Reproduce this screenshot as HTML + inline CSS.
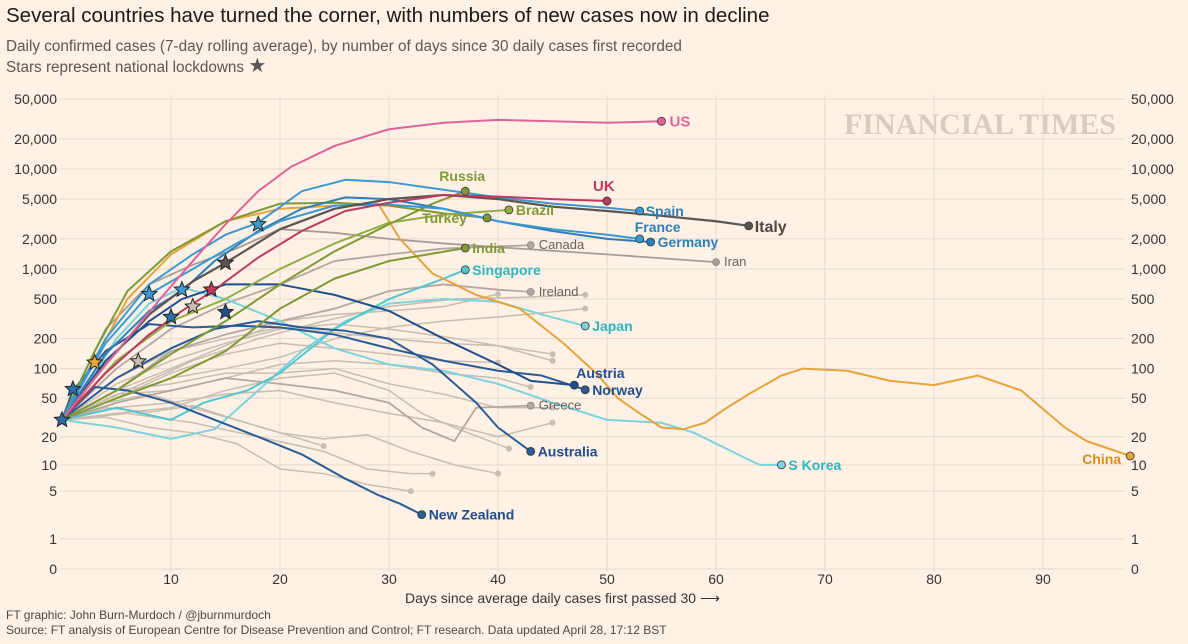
<!DOCTYPE html>
<html><head><meta charset="utf-8">
<style>
html,body{margin:0;padding:0;background:#fff1e5;}
body{width:1188px;height:639px;overflow:hidden;font-family:"Liberation Sans",sans-serif;}
svg text{font-family:"Liberation Sans",sans-serif;}
</style></head>
<body>
<svg id="chart" width="1188" height="639" viewBox="0 0 1188 639" xmlns="http://www.w3.org/2000/svg">
<rect width="1188" height="639" fill="#fff1e5"/>
<text x="6" y="22" font-size="20.5" fill="#1a1a1a">Several countries have turned the corner, with numbers of new cases now in decline</text>
<text x="6" y="51" font-size="15.3" fill="#5e5650">Daily confirmed cases (7-day rolling average), by number of days since 30 daily cases first recorded</text>
<text x="6" y="72" font-size="15.3" fill="#5e5650">Stars represent national lockdowns <tspan font-size="20" fill="#555">★</tspan></text>
<text x="980" y="134" font-size="30" fill="#dccbbd" text-anchor="middle" font-weight="bold" font-family="Liberation Serif, serif" style="font-family:'Liberation Serif',serif">FINANCIAL TIMES</text>
<g id="grid"></g>
<g id="grey"></g>
<g id="main"></g>
<g id="stars"></g>
<g id="labels"></g>
<text x="405" y="603" font-size="14" fill="#333">Days since average daily cases first passed 30 ⟶</text>
<text x="6" y="619" font-size="12" fill="#4d4844">FT graphic: John Burn-Murdoch / @jburnmurdoch</text>
<text x="6" y="634" font-size="12" fill="#4d4844">Source: FT analysis of European Centre for Disease Prevention and Control; FT research. Data updated April 28, 17:12 BST</text>
</svg>
<script>
const yTicks=[50000,20000,10000,5000,2000,1000,500,200,100,50,20,10,5,1,0];
const yTickLabels=["50,000","20,000","10,000","5,000","2,000","1,000","500","200","100","50","20","10","5","1","0"];
const xTicks=[10,20,30,40,50,60,70,80,90];

const usDays=[0,3,6,9,12,15,18,21,25,30,35,40,45,50,55];
const usVals=[30,80,200,500,1200,2800,6000,10500,17000,25000,29000,31000,30000,29000,30000];
const italyDays=[0,4,8,12,15,20,25,30,35,40,45,50,55,60,63];
const italyVals=[30,110,350,750,1150,2500,4000,5000,5500,5000,4200,3800,3400,3000,2700];
const spainDays=[0,4,8,12,15,18,22,26,30,35,40,45,50,53];
const spainVals=[30,200,700,1400,2200,2900,6000,7800,7400,6200,5200,4500,4100,3800];
const franceDays=[0,4,8,12,16,20,25,30,35,40,45,50,53];
const franceVals=[30,180,560,1000,1800,3000,4300,4400,4000,3000,2500,2200,2000];
const germanyDays=[0,4,8,11,14,18,22,26,30,35,40,45,50,54];
const germanyVals=[30,140,380,600,1200,2400,4000,5200,5000,4000,3000,2400,2000,1860];
const ukDays=[0,4,8,11,14,18,22,26,30,35,40,45,50];
const ukVals=[30,90,220,380,620,1300,2400,3800,4600,5500,5300,5000,4780];
const russiaDays=[0,5,10,15,20,25,30,34,37];
const russiaVals=[30,60,140,300,700,1500,2800,4500,6000];
const brazilDays=[0,5,10,15,20,25,30,35,41];
const brazilVals=[30,120,300,500,1000,1800,2900,3500,3900];
const turkeyDays=[0,3,6,10,15,20,25,30,35,39];
const turkeyVals=[30,150,600,1500,3000,4500,4600,4300,3600,3240];
const indiaDays=[0,5,10,15,20,25,30,37];
const indiaVals=[30,50,80,150,400,800,1200,1620];
const canadaDays=[0,5,10,15,20,25,30,35,43];
const canadaVals=[30,100,250,450,700,1200,1400,1600,1730];
const iranDays=[0,4,8,12,16,20,25,30,35,40,50,60];
const iranVals=[30,250,700,1100,1600,2500,2300,2000,1800,1650,1400,1170];
const irelandDays=[0,5,10,15,20,25,30,35,40,43];
const irelandVals=[30,60,150,220,300,400,600,700,620,590];
const singaporeDays=[0,5,10,13,17,20,25,30,35,37];
const singaporeVals=[30,40,30,45,60,90,250,500,800,980];
const japanDays=[0,5,10,14,18,22,26,30,35,40,44,48];
const japanVals=[30,25,19,24,60,150,300,450,500,470,350,268];
const austriaDays=[0,4,8,11,15,20,25,30,35,40,43,47];
const austriaVals=[30,120,300,500,700,700,550,380,200,110,75,68];
const norwayDays=[0,1,4,8,12,16,20,25,30,35,40,44,48];
const norwayVals=[30,60,150,280,260,270,260,220,160,120,95,85,61];
const australiaDays=[0,5,10,14,18,22,26,30,34,38,40,43];
const australiaVals=[30,80,160,250,300,260,240,200,110,45,25,14];
const nzDays=[0,3,6,10,14,18,22,26,29,31,33];
const nzVals=[30,65,60,45,30,20,13,7,4.5,3.5,2.5];
const skoreaDays=[0,2,5,8,11,15,20,25,30,35,40,45,50,55,58,62,64,66];
const skoreaVals=[30,60,200,450,650,500,300,160,110,95,70,45,30,28,22,13,10,10];
const chinaDays=[0,3,6,10,15,20,25,29,31,34,38,42,46,49,51,53,55,57,59,61,63,66,68,72,76,80,84,88,92,94,98];
const chinaVals=[30,120,500,1400,3000,4000,4300,4500,2000,900,550,400,180,90,50,35,25,24,28,40,55,85,100,95,75,68,85,60,25,18,12.5];
const greeceDays=[0,5,10,15,20,25,30,33,36,38,43];
const greeceVals=[30,45,60,80,70,60,45,25,18,40,42];

const grey1=[[0,30],[6,60],[12,120],[18,200],[24,300],[30,420],[36,500],[42,520],[48,550]];
const grey2=[[0,30],[5,50],[10,90],[15,140],[20,180],[25,160],[30,140],[35,120],[40,115]];
const grey3=[[0,30],[5,40],[10,45],[15,55],[20,60],[25,45],[30,35],[35,28],[40,20],[45,28]];
const grey4=[[0,30],[6,35],[12,28],[18,20],[24,14],[28,9],[32,8],[34,8]];
const grey5=[[0,30],[5,70],[10,120],[15,180],[20,250],[25,280],[30,250],[35,210],[40,170],[45,140]];
const grey6=[[0,30],[4,45],[8,55],[12,40],[16,30],[20,22],[24,16]];
const grey7=[[0,30],[5,60],[10,100],[15,170],[20,300],[25,350],[30,380],[35,420],[40,560]];
const grey8=[[0,30],[5,35],[10,40],[15,60],[20,80],[25,90],[30,60],[33,35],[36,25],[41,15]];
const grey9=[[0,30],[4,32],[8,25],[12,22],[16,17],[20,9],[24,8],[28,6],[32,5]];
const grey10=[[0,30],[5,80],[10,150],[15,200],[20,260],[25,230],[30,200],[35,180],[40,170],[45,120]];
const grey11=[[0,30],[5,55],[10,60],[15,80],[20,110],[25,120],[30,110],[35,90],[40,80],[43,65]];
const grey12=[[0,30],[5,60],[10,70],[15,90],[20,90],[25,100],[30,70],[35,55],[40,40],[45,40]];
const grey13=[[0,30],[5,50],[10,80],[15,100],[20,130],[25,200],[30,260],[35,300],[40,330],[48,400]];
const grey14=[[0,30],[4,40],[8,36],[12,42],[16,30],[20,22],[24,19],[28,21],[32,14],[36,10],[40,8]];
const greyLines=[grey1,grey2,grey3,grey4,grey5,grey6,grey7,grey8,grey9,grey10,grey11,grey12,grey13,grey14];

const X0=62, PX_PER_DAY=10.9, Y0=569, PX_PER_DECADE=100;
function xs(d){return X0+d*PX_PER_DAY;}
function ys(v){return Y0-PX_PER_DECADE*Math.log10(v+1);}
const NS="http://www.w3.org/2000/svg";
function mk(tag,parent,attrs){const e=document.createElementNS(NS,tag);for(const k in attrs)e.setAttribute(k,attrs[k]);parent.appendChild(e);return e;}

const grid=document.getElementById('grid');
yTicks.forEach((t,i)=>{
  const y=ys(t);
  const l=mk('line',grid,{x1:60,x2:1125,y1:y,y2:y,stroke:'#e6d9ce','stroke-width':1});
  
  
  const a=mk('text',grid,{x:57,y:y+5,'font-size':14,fill:'#333','text-anchor':'end'});a.textContent=yTickLabels[i];
  
  
  const b=mk('text',grid,{x:1131,y:y+5,'font-size':14,fill:'#333'});b.textContent=yTickLabels[i];
  
  
});
xTicks.forEach(t=>{
  const x=xs(t);
  const l=mk('line',grid,{x1:x,x2:x,y1:95,y2:572,stroke:'#e6d9ce','stroke-width':1});
  
  
  const a=mk('text',grid,{x:x,y:584,'font-size':14,fill:'#333','text-anchor':'middle'});a.textContent=t;
  
  
});

const greyG=document.getElementById('grey');
greyLines.forEach(g=>{
  const p=mk('polyline',greyG,{points:g.map(q=>xs(q[0])+','+ys(q[1])).join(' '),fill:'none',stroke:'#c9bcb1','stroke-width':1.5});
  
  
  const e=g[g.length-1];
  const c=mk('circle',greyG,{cx:xs(e[0]),cy:ys(e[1]),r:3,fill:'#c9bcb1'});
  
  
});

const series=[
 ['greece',greeceDays,greeceVals,'#b3a8a0',1.8,'Greece',8,4,'#66605c',13,false],
 ['ireland',irelandDays,irelandVals,'#b3a8a0',1.8,'Ireland',8,4,'#66605c',13,false],
 ['canada',canadaDays,canadaVals,'#b3a8a0',1.8,'Canada',8,4,'#66605c',13,false],
 ['iran',iranDays,iranVals,'#a79c94',1.8,'Iran',8,4,'#66605c',13,false],
 ['japan',japanDays,japanVals,'#7dd3db',2,'Japan',7,5,'#2bb6c0',14,true],
 ['singapore',singaporeDays,singaporeVals,'#52c6cf',2,'Singapore',7,5,'#2bb6c0',14,true],
 ['s-korea',skoreaDays,skoreaVals,'#7dd3db',2,'S Korea',7,5,'#2bb6c0',14,true],
 ['china',chinaDays,chinaVals,'#e8a43a',2,'China',-48,8,'#d98f20',14,true],
 ['new-zealand',nzDays,nzVals,'#2a5b95',2,'New Zealand',7,5,'#1f4e8c',14,true],
 ['australia',australiaDays,australiaVals,'#2a5b95',2,'Australia',7,5,'#1f4e8c',14,true],
 ['norway',norwayDays,norwayVals,'#2a5b95',2,'Norway',7,5,'#1f4e8c',14,true],
 ['austria',austriaDays,austriaVals,'#1f4e8c',2,'Austria',2,-7,'#1f4e8c',14,true],
 ['india',indiaDays,indiaVals,'#7d9a35',2,'India',7,5,'#7d9a35',14,true],
 ['turkey',turkeyDays,turkeyVals,'#7d9a35',2,'Turkey',-65,5,'#7d9a35',14,true],
 ['brazil',brazilDays,brazilVals,'#8fae45',2,'Brazil',7,5,'#7d9a35',14,true],
 ['russia',russiaDays,russiaVals,'#7d9a35',2,'Russia',-26,-10,'#7d9a35',14,true],
 ['germany',germanyDays,germanyVals,'#2c7fb8',2,'Germany',7,5,'#2c7fb8',14,true],
 ['france',franceDays,franceVals,'#3d98d0',2,'France',-5,-7,'#2c7fb8',14,true],
 ['spain',spainDays,spainVals,'#3d98d0',2,'Spain',6,5,'#2c7fb8',14,true],
 ['italy',italyDays,italyVals,'#5a5552',2.2,'Italy',6,6,'#4d4844',16,true],
 ['uk',ukDays,ukVals,'#c0395f',2,'UK',-14,-10,'#c0395f',15,true],
 ['us',usDays,usVals,'#e0639a',2,'US',8,5,'#e0639a',15,true]
];
const mainG=document.getElementById('main'), labG=document.getElementById('labels');
series.forEach(s=>{
  const [id,days,vals,col,w,name,dx,dy,lcol,fs,bold]=s;
  const p=mk('polyline',mainG,{points:days.map((d,i)=>xs(d)+','+ys(vals[i])).join(' '),fill:'none',stroke:col,'stroke-width':w,'stroke-linejoin':'round'});
  
  
  const ex=xs(days[days.length-1]), ey=ys(vals[vals.length-1]);
  const c=mk('circle',labG,{cx:ex,cy:ey,r:bold?4:3.5,fill:col,stroke:bold?'#333':'#888','stroke-width':0.8});
  
  
  const t=mk('text',labG,{x:ex+dx,y:ey+dy,'font-size':fs,fill:lcol,'font-weight':bold?'bold':'normal'});
  t.textContent=name;
  
  
});

const starDays=[0,1,3,7,8,10,11,12,13.7,15,15,18];
const starVals=[30,62,115,118,560,330,620,420,620,1150,370,2800];
const starColors=['#2c6fa8','#2c6fa8','#e8a43a','#c9bcb1','#3d98d0','#2c6fa8','#3d98d0','#c9bcb1','#c0395f','#5a5552','#1f4e8c','#3d98d0'];
const starG=document.getElementById('stars');
function starPts(cx,cy,R,r){let a=[];for(let i=0;i<10;i++){const ang=-Math.PI/2+i*Math.PI/5;const rr=i%2?r:R;a.push((cx+rr*Math.cos(ang)).toFixed(1)+','+(cy+rr*Math.sin(ang)).toFixed(1));}return a.join(' ');}
starDays.forEach((d,i)=>{
  const s=mk('polygon',starG,{points:starPts(xs(d),ys(starVals[i]),8,3.6),fill:starColors[i],stroke:'#222','stroke-width':1});
  
  
});
</script>
</body></html>
